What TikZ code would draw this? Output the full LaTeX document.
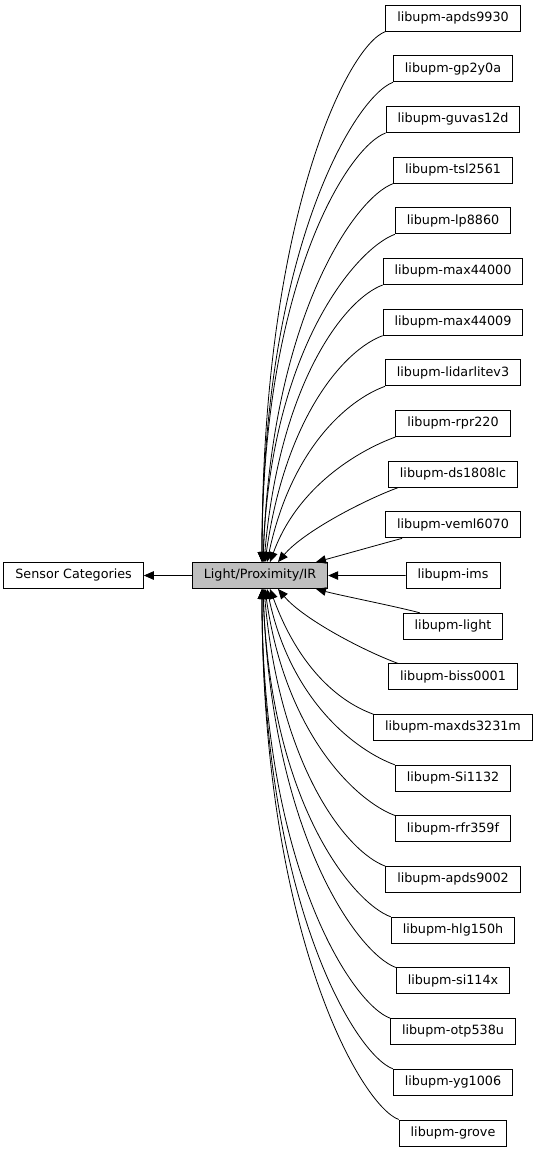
\documentclass[tikz,border=0pt]{standalone}
\usepackage{fontspec}
\setmainfont{DejaVu Sans}
\usetikzlibrary{arrows.meta, positioning}
\tikzset{
    module/.style={rectangle, draw=black, line width=0.9pt, fill=white, inner xsep=11.5pt, inner ysep=0pt, minimum height=26pt, text height=9.5pt, text depth=2.8pt, font=\fontsize{12.75pt}{14pt}\selectfont},
    current/.style={module, fill=black!25},
    arrow/.style={line width=0.8pt, -{Triangle[length=10pt, width=8.5pt]}}
}
\begin{document}
\begin{tikzpicture}[x=1pt, y=1pt, node distance=23.77pt]
    \useasboundingbox (0,0) rectangle (539,-1152);
    \node (lpir) [current] at (260,-575.5) {Light/Proximity/IR};
    \node (sensor) [module, left=48pt of lpir] {Sensor Categories};

    % module column, top to bottom
    \node (apds9930) [module] at (453,-18.2) {libupm-apds9930};
    \node (gp2y0a) [module, below=of apds9930] {libupm-gp2y0a};
    \node (guvas12d) [module, below=of gp2y0a] {libupm-guvas12d};
    \node (tsl2561) [module, below=of guvas12d] {libupm-tsl2561};
    \node (lp8860) [module, below=of tsl2561] {libupm-lp8860};
    \node (max44000) [module, below=of lp8860] {libupm-max44000};
    \node (max44009) [module, below=of max44000] {libupm-max44009};
    \node (lidarlitev3) [module, below=of max44009] {libupm-lidarlitev3};
    \node (rpr220) [module, below=of lidarlitev3] {libupm-rpr220};
    \node (ds1808lc) [module, below=of rpr220] {libupm-ds1808lc};
    \node (veml6070) [module, below=of ds1808lc] {libupm-veml6070};
    \node (ims) [module, below=of veml6070] {libupm-ims};
    \node (light) [module, below=of ims] {libupm-light};
    \node (biss0001) [module, below=of light] {libupm-biss0001};
    \node (maxds3231m) [module, below=of biss0001] {libupm-maxds3231m};
    \node (Si1132) [module, below=of maxds3231m] {libupm-Si1132};
    \node (rfr359f) [module, below=of Si1132] {libupm-rfr359f};
    \node (apds9002) [module, below=of rfr359f] {libupm-apds9002};
    \node (hlg150h) [module, below=of apds9002] {libupm-hlg150h};
    \node (si114x) [module, below=of hlg150h] {libupm-si114x};
    \node (otp538u) [module, below=of si114x] {libupm-otp538u};
    \node (yg1006) [module, below=of otp538u] {libupm-yg1006};
    \node (grove) [module, below=of yg1006] {libupm-grove};

    \draw [arrow] (lpir) -- (sensor);
    \draw [arrow] (ims) -- (lpir);

    % name / end shift / start shift / out angle / out length / in angle / in length
    \foreach \n/\ex/\sx/\oa/\ol/\ang/\len in {apds9930/2/0/200/40/90/345, gp2y0a/2/0/200/40/90/313,
        guvas12d/2/0/200/40/90/280, tsl2561/3/0/200/40/88/247, lp8860/3/0/200/40/88/215,
        max44000/4/0/200/40/85/181, max44009/5/0/200/40/82/148, lidarlitev3/7/0/200/40/78/116,
        rpr220/10/0/200/40/70/80, ds1808lc/18/10/200/35/50/40, veml6070/56/17/195/25/15/25}
        \draw [arrow] ([xshift=\sx pt]\n.south west) .. controls +(\oa:\ol) and +(\ang:\len) .. ([xshift=\ex pt]lpir.north);
    \foreach \n/\ex/\sx/\oa/\ol/\ang/\len in {grove/2/0/160/40/-90/345, yg1006/2/0/160/40/-90/313,
        otp538u/2/0/160/40/-90/280, si114x/3/0/160/40/-88/247, hlg150h/3/0/160/40/-88/215,
        apds9002/4/0/160/40/-85/181, rfr359f/5/0/160/40/-82/148, Si1132/7/0/160/40/-78/116,
        maxds3231m/10/0/160/40/-70/80, biss0001/18/10/160/35/-50/40, light/56/17/165/25/-15/25}
        \draw [arrow] ([xshift=\sx pt]\n.north west) .. controls +(\oa:\ol) and +(\ang:\len) .. ([xshift=\ex pt]lpir.south);
\end{tikzpicture}
\end{document}
